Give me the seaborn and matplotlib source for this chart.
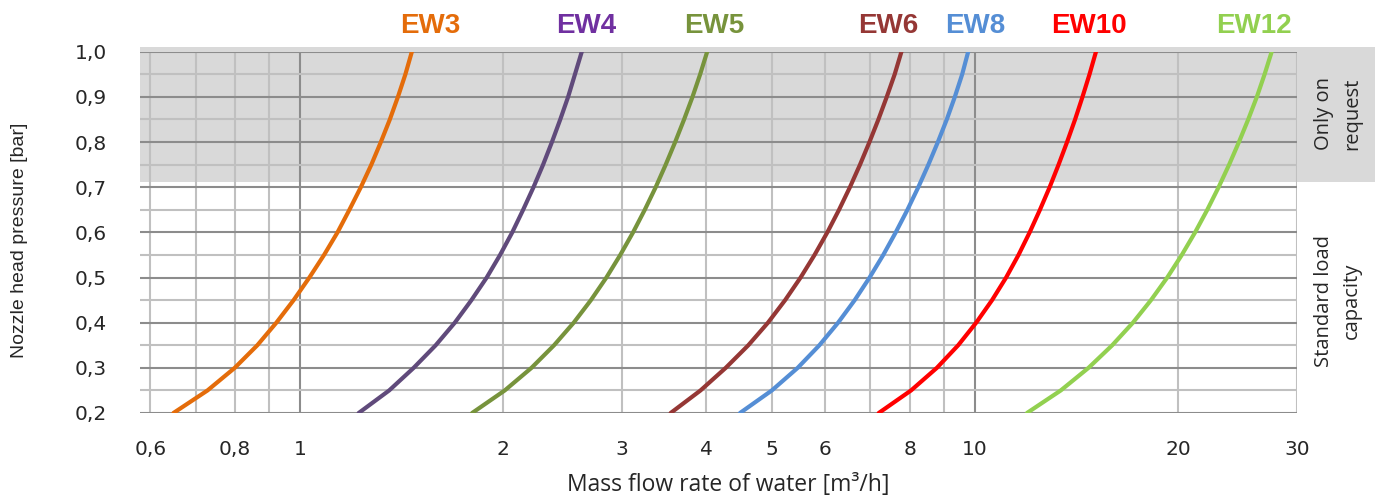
import numpy as np
import pandas as pd
import matplotlib.pyplot as plt
import matplotlib.ticker as mticker
import seaborn as sns

pressure = [0.2, 0.25, 0.3, 0.35, 0.4, 0.45, 0.5, 0.55, 0.6,
            0.65, 0.7, 0.75, 0.8, 0.85, 0.9, 0.95, 1.0]

# mass flow rate of water [m3/h] for each nozzle, same order as pressure
ew3 = [0.649, 0.729, 0.800, 0.864, 0.922, 0.978, 1.032, 1.085, 1.136,
       1.183, 1.230, 1.275, 1.317, 1.358, 1.396, 1.432, 1.464]
ew4 = [1.221, 1.355, 1.473, 1.588, 1.695, 1.794, 1.890, 1.978, 2.062,
       2.140, 2.217, 2.291, 2.361, 2.429, 2.495, 2.554, 2.614]
ew5 = [1.798, 2.010, 2.202, 2.378, 2.543, 2.697, 2.843, 2.981, 3.114,
       3.241, 3.364, 3.481, 3.595, 3.706, 3.814, 3.915, 4.010]
ew6 = [3.540, 3.920, 4.272, 4.614, 4.934, 5.232, 5.515, 5.784, 6.042,
       6.288, 6.526, 6.755, 6.976, 7.192, 7.400, 7.603, 7.780]
ew8 = [4.485, 5.000, 5.461, 5.880, 6.268, 6.634, 6.979, 7.312, 7.630,
       7.941, 8.241, 8.530, 8.810, 9.082, 9.335, 9.572, 9.770]
ew10 = [7.200, 8.040, 8.780, 9.442, 10.04, 10.60, 11.12, 11.60, 12.05,
        12.48, 12.90, 13.30, 13.69, 14.07, 14.43, 14.78, 15.11]
ew12 = [11.94, 13.40, 14.73, 15.97, 17.14, 18.23, 19.27, 20.25, 21.19,
        22.09, 22.96, 23.80, 24.61, 25.40, 26.16, 26.86, 27.52]

nozzles = ['EW3', 'EW4', 'EW5', 'EW6', 'EW8', 'EW10', 'EW12']
flows = [ew3, ew4, ew5, ew6, ew8, ew10, ew12]
line_colors = ['#e46c0a', '#604a7b', '#77933c', '#953735', '#558ed5', '#ff0000', '#92d050']
label_colors = ['#e46c0a', '#7030a0', '#77933c', '#953735', '#558ed5', '#ff0000', '#92d050']

x_major = [1, 10]
x_major_labels = ['1', '10']
x_minor = [0.6, 0.7, 0.8, 0.9, 2, 3, 4, 5, 6, 7, 8, 9, 20, 30]
x_minor_labels = ['0,6', '', '0,8', '', '2', '3', '4', '5', '6', '', '8', '', '20', '30']
y_major = [0.2, 0.3, 0.4, 0.5, 0.6, 0.7, 0.8, 0.9, 1.0]
y_minor = [0.25, 0.35, 0.45, 0.55, 0.65, 0.75, 0.85, 0.95]

request_limit = 0.712  # above this pressure: only on request

sns.set_theme(style='white')
plt.rcParams['font.family'] = ['DejaVu Sans']

df = pd.DataFrame({
    'nozzle': np.repeat(nozzles, len(pressure)),
    'flow': np.concatenate(flows),
    'pressure': pressure * len(nozzles),
})

W, H = 1375, 500
fig = plt.figure(figsize=(W / 100, H / 100), dpi=100)
ax = fig.add_axes([140 / W, 1 - 413 / H, (1297 - 140) / W, (413 - 51.7) / H])
ax.set_xscale('log')

sns.lineplot(data=df, x='flow', y='pressure', hue='nozzle',
             palette=dict(zip(nozzles, line_colors)), linewidth=3,
             estimator=None, sort=False, legend=False, ax=ax)

ax.set_xlim(0.579, 30)
ax.set_ylim(0.2, 1.0)
ax.set_xlabel('')
ax.set_ylabel('')

# grey "only on request" band, runs out past the plot to the right edge
ax.axhspan(request_limit, 1.01, xmin=0, xmax=(W - 140) / (1297 - 140),
           color='#d9d9d9', lw=0, zorder=0, clip_on=False)

for s in ax.spines.values():
    s.set_visible(False)

ax.xaxis.set_major_locator(mticker.FixedLocator(x_major))
ax.xaxis.set_major_formatter(mticker.FixedFormatter(x_major_labels))
ax.xaxis.set_minor_locator(mticker.FixedLocator(x_minor))
ax.xaxis.set_minor_formatter(mticker.FixedFormatter(x_minor_labels))
ax.yaxis.set_major_locator(mticker.FixedLocator(y_major))
ax.yaxis.set_major_formatter(mticker.FuncFormatter(lambda v, _: f'{v:.1f}'.replace('.', ',')))
ax.yaxis.set_minor_locator(mticker.FixedLocator(y_minor))
ax.yaxis.set_minor_formatter(mticker.NullFormatter())

ax.set_axisbelow(True)
ax.grid(which='major', axis='both', color='#8c8c8c', lw=1.5)
ax.grid(which='minor', axis='both', color='#c0c0c0', lw=1.5)

ax.tick_params(axis='x', which='both', length=6, width=1.5, pad=13.5, labelsize=14.5)
ax.tick_params(axis='x', which='major', color='#8c8c8c')
ax.tick_params(axis='x', which='minor', color=(0, 0, 0, 0))
ax.tick_params(axis='y', which='both', length=0, pad=24, labelsize=14.5)

# nozzle names above the top end of each curve
nudge = {'EW3': 18, 'EW4': 4, 'EW5': 7, 'EW6': -13, 'EW8': 7, 'EW10': -7, 'EW12': -18}
for name, q, c in zip(nozzles, flows, label_colors):
    ax.annotate(name, xy=(q[-1], 1.0725), xycoords=('data', 'axes fraction'),
                xytext=(nudge[name], 0), textcoords='offset pixels',
                ha='center', va='center', color=c, fontsize=20, fontweight='bold',
                family=['Liberation Sans Narrow', 'Liberation Sans', 'DejaVu Sans'],
                annotation_clip=False)

fig.text(1338 / W, 1 - 114 / H, 'Only on\nrequest', rotation=90, ha='center', va='center',
         multialignment='center', linespacing=1.5, fontsize=14.5,
         family=['Open Sans', 'DejaVu Sans'])
fig.text(1338 / W, 1 - 301 / H, 'Standard load\ncapacity', rotation=90, ha='center', va='center',
         multialignment='center', linespacing=1.5, fontsize=14.5,
         family=['Open Sans', 'DejaVu Sans'])

fig.text(20 / W, 1 - 240 / H, 'Nozzle head pressure [bar]', rotation=90, ha='center', va='center',
         fontsize=14, family=['Liberation Sans', 'DejaVu Sans'])
fig.text(728 / W, 3 / H, 'Mass flow rate of water [m³/h]', ha='center', va='bottom',
         fontsize=16.5, family=['Open Sans', 'DejaVu Sans'])

fig.savefig('out.png', dpi=100)
